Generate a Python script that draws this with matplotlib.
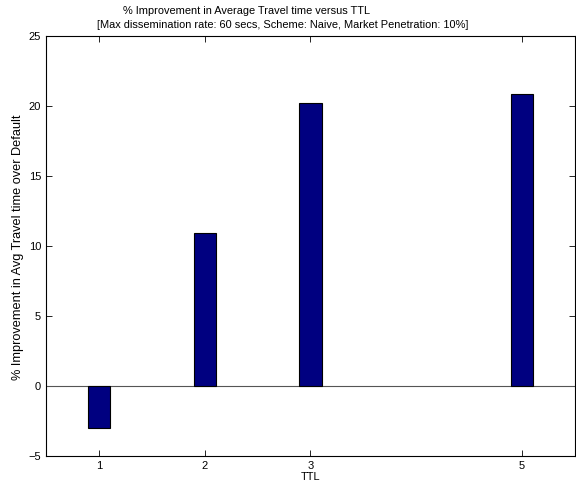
import matplotlib
matplotlib.use('Agg')
import matplotlib.pyplot as plt

ttl = [1, 2, 3, 5]
improvement = [-3.0, 10.9, 20.15, 20.85]
xticks = [1, 2, 3, 5]
yticks = [-5, 0, 5, 10, 15, 20, 25]

plt.rcParams['font.family'] = ['Liberation Sans', 'DejaVu Sans']
plt.rcParams['font.size'] = 7.5

fig = plt.figure(figsize=(5.76, 4.84), dpi=100)
ax = fig.add_axes([0.0799, 0.0585, 0.918, 0.868])

ax.bar(ttl, improvement, width=0.21, color='#000080', edgecolor='black', linewidth=0.8, zorder=3)
ax.axhline(0, color='#555555', linewidth=0.8, zorder=2)

ax.set_xlim(0.5, 5.5)
ax.set_ylim(-5, 25)
ax.set_xticks(xticks)
ax.set_yticks(yticks)
ax.tick_params(direction='in', top=True, right=True, length=4, width=0.6, labelsize=8)
for s in ax.spines.values():
    s.set_linewidth(0.8)

fig.text(247 / 576, 1 - 11 / 484, '% Improvement in Average Travel time versus TTL',
         ha='center', va='center', fontsize=7.9)
fig.text(283 / 576, 1 - 25 / 484,
         '[Max dissemination rate: 60 secs, Scheme: Naive, Market Penetration: 10%]',
         ha='center', va='center', fontsize=7.9)
ax.set_xlabel('TTL', labelpad=1, fontsize=7.9)
fig.text(18 / 576, 1 - 247 / 484, '% Improvement in Avg Travel time over Default',
         rotation=90, ha='center', va='center', fontsize=9.2)

plt.savefig('out.png', dpi=100)
plt.close()
